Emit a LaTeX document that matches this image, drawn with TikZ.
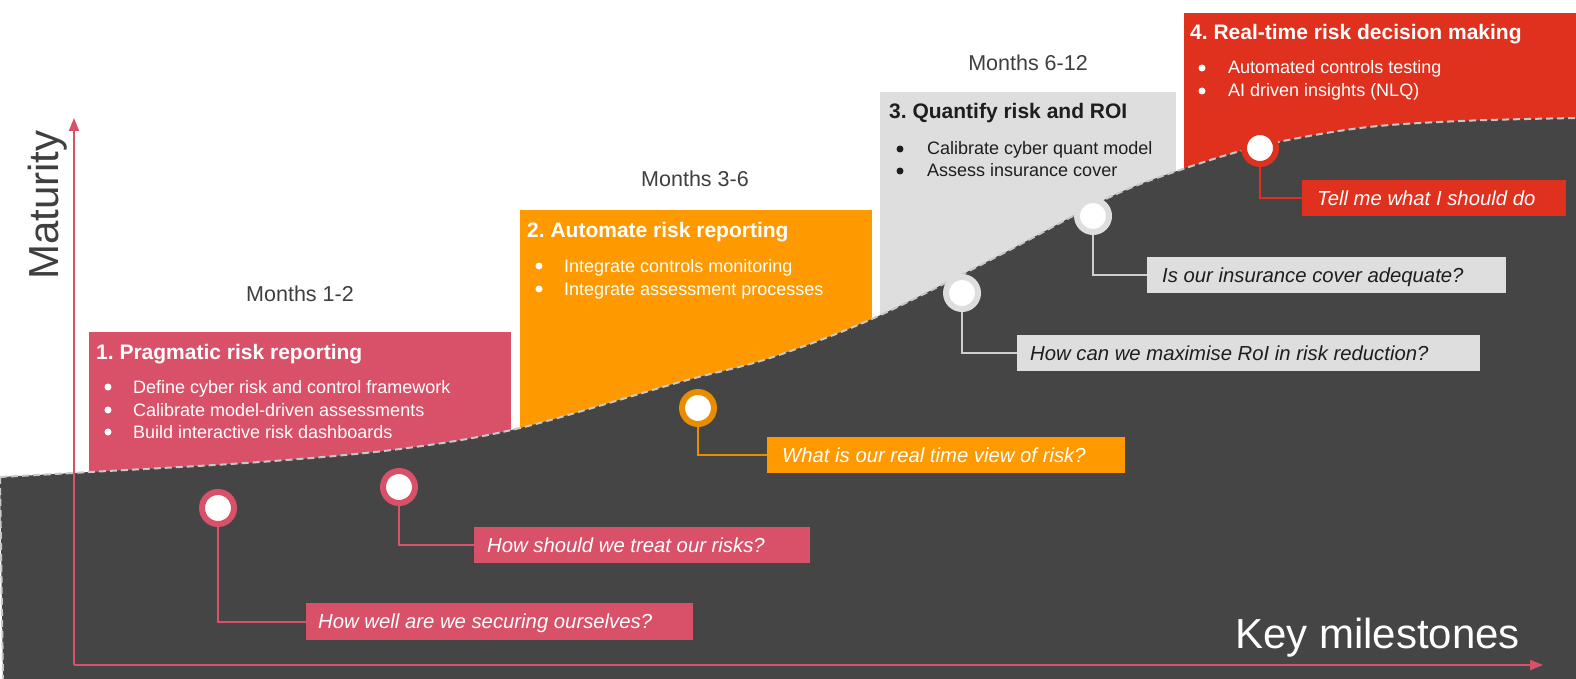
\documentclass[tikz,border=0pt]{standalone}
\usepackage{fontspec}
\setmainfont{Liberation Sans}
\usetikzlibrary{arrows.meta}
\frenchspacing
\definecolor{cpink}{HTML}{D95169}
\definecolor{corange}{HTML}{FE9A00}
\definecolor{corring}{HTML}{E98C00}
\definecolor{cgray}{HTML}{DEDEDE}
\definecolor{cgrayline}{HTML}{CFCFCF}
\definecolor{cred}{HTML}{E0301E}
\definecolor{cdark}{HTML}{454545}
\definecolor{ctext}{HTML}{3F3F3F}
\definecolor{cdash}{HTML}{C8C8C8}
\definecolor{cblack}{HTML}{1E1E1E}
\begin{document}
\frenchspacing
\begin{tikzpicture}[x=1pt,y=-1pt,
  titletext/.style={anchor=base west, inner sep=0pt, font=\fontsize{21}{24}\bfseries\selectfont\frenchspacing},
  itemtext/.style={anchor=base west, inner sep=0pt, font=\fontsize{18}{22}\selectfont},
  dotmark/.style={circle, inner sep=0pt, minimum size=7pt, fill=#1},
  months/.style={anchor=base, inner sep=0pt, text=ctext, font=\fontsize{21.5}{25}\selectfont},
  marker/.style={circle, fill=white, draw=#1, line width=6pt, minimum size=32pt, inner sep=0pt},
  qbox/.style={fill=#1, anchor=west, inner sep=0pt, minimum height=36.5pt},
  qtext/.style={anchor=west, inner sep=0pt, text height=14.5pt, text depth=0pt, font=\fontsize{20.3}{24}\itshape\selectfont},
  link/.style={draw=#1, line width=2pt},
  axis/.style={draw=cpink, line width=2pt, -{Triangle[length=13pt,width=10pt]}},
  curveline/.style={draw=cdash, line width=2pt, dash pattern=on 7pt off 4pt},
]
\useasboundingbox (0,0) rectangle (1576,679);
\fill[white] (0,0) rectangle (1576,679);

% stage boxes
\fill[cpink] (89,332) rectangle (511,520);
\fill[corange] (520,210) rectangle (872,460);
\fill[cgray] (880,92) rectangle (1176,360);
\fill[cred] (1184,13) rectangle (1576,200);

% dark area under curve
\fill[cdark] plot[smooth, tension=0.55] coordinates {(0,477) (90,472) (260,462) (400,449) (520,428) (680,382) (770,358) (874,318) (1000,255) (1110,197) (1180,170) (1260,146) (1360,128) (1460,121) (1576,118)} -- (1576,679) -- (3,679) -- cycle;
\draw[curveline] plot[smooth, tension=0.55] coordinates {(0,477) (90,472) (260,462) (400,449) (520,428) (680,382) (770,358) (874,318) (1000,255) (1110,197) (1180,170) (1260,146) (1360,128) (1460,121) (1576,118)};
\draw[curveline] (0,477) -- (3,679);

% months
\node[months] (m1) at (300,301) {Months 1-2};
\node[months] (m2) at (695,187) {Months 3-6};
\node[months] (m3) at (1028,71) {Months 6-12};

% stage titles and items
\node[titletext, text=white] (t1) at (96,359) {1. Pragmatic risk reporting};
\node[dotmark=white] (d11) at (108,387) {};
\node[dotmark=white] (d12) at (108,410) {};
\node[dotmark=white] (d13) at (108,432) {};
\node[itemtext, text=white] (i11) at (133,393) {Define cyber risk and control framework};
\node[itemtext, text=white] (i12) at (133,416) {Calibrate model-driven assessments};
\node[itemtext, text=white] (i13) at (133,438) {Build interactive risk dashboards};

\node[titletext, text=white] (t2) at (527,237) {2. Automate risk reporting};
\node[dotmark=white] (d21) at (539,266) {};
\node[dotmark=white] (d22) at (539,289) {};
\node[itemtext, text=white] (i21) at (564,272) {Integrate controls monitoring};
\node[itemtext, text=white] (i22) at (564,295) {Integrate assessment processes};

\node[titletext, text=cblack] (t3) at (889,119) {3. Quantify risk and ROI};
\node[dotmark=cblack] (d31) at (900,149) {};
\node[dotmark=cblack] (d32) at (900,171) {};
\node[itemtext, text=cblack] (i31) at (927,155) {Calibrate cyber quant model};
\node[itemtext, text=cblack] (i32) at (927,177) {Assess insurance cover};

\node[titletext, text=white] (t4) at (1190,40) {4. Real-time risk decision making};
\node[dotmark=white] (d41) at (1202,68) {};
\node[dotmark=white] (d42) at (1202,91) {};
\node[itemtext, text=white] (i41) at (1228,74) {Automated controls testing};
\node[itemtext, text=white] (i42) at (1228,97) {AI driven insights (NLQ)};

% axes
\coordinate (origin) at (74,665);
\coordinate (ytip) at (74,118);
\coordinate (xtip) at (1543,665);
\draw[axis] (origin) -- (ytip);
\draw[axis] (origin) -- (xtip);
\node[rotate=90, anchor=base, inner sep=0pt, text=ctext, font=\fontsize{42}{46}\selectfont] (mat) at (58,205) {Maturity};
\node[anchor=base west, inner sep=0pt, text=white, font=\fontsize{42}{46}\selectfont] (km) at (1235,648) {Key milestones};

% question boxes
\node[qbox=cpink, minimum width=387pt] (q1) at (306,621.5) {};
\node[qbox=cpink, minimum width=336pt] (q2) at (474,545) {};
\node[qbox=corange, minimum width=358pt] (q3) at (767,455) {};
\node[qbox=cgray, minimum width=463pt] (q4) at (1017,353) {};
\node[qbox=cgray, minimum width=359pt] (q5) at (1147,275) {};
\node[qbox=cred, minimum width=264pt] (q6) at (1302,198) {};
\node[qtext, text=white] (l1) at ([xshift=12pt]q1.west) {How well are we securing ourselves?};
\node[qtext, text=white] (l2) at ([xshift=13pt]q2.west) {How should we treat our risks?};
\node[qtext, text=white] (l3) at ([xshift=15pt]q3.west) {What is our real time view of risk?};
\node[qtext, text=cblack] (l4) at ([xshift=13pt]q4.west) {How can we maximise RoI in risk reduction?};
\node[qtext, text=cblack] (l5) at ([xshift=15pt]q5.west) {Is our insurance cover adequate?};
\node[qtext, text=white] (l6) at ([xshift=15pt]q6.west) {Tell me what I should do};

% markers
\coordinate (p1) at (218,508);
\coordinate (p2) at (399,487);
\coordinate (p3) at (698,408);
\coordinate (p4) at (962,293);
\coordinate (p5) at (1093,216);
\coordinate (p6) at (1260,148);
\draw[link=cpink] (p1) |- (q1.west);
\draw[link=cpink] (p2) |- (q2.west);
\draw[link=corring] (p3) |- (q3.west);
\draw[link=cgrayline] (p4) |- (q4.west);
\draw[link=cgrayline] (p5) |- (q5.west);
\draw[link=cred] (p6) |- (q6.west);
\node[marker=cpink] (c1) at (p1) {};
\node[marker=cpink] (c2) at (p2) {};
\node[marker=corring] (c3) at (p3) {};
\node[marker=cgray] (c4) at (p4) {};
\node[marker=cgray] (c5) at (p5) {};
\node[marker=cred] (c6) at (p6) {};
\end{tikzpicture}
\end{document}
